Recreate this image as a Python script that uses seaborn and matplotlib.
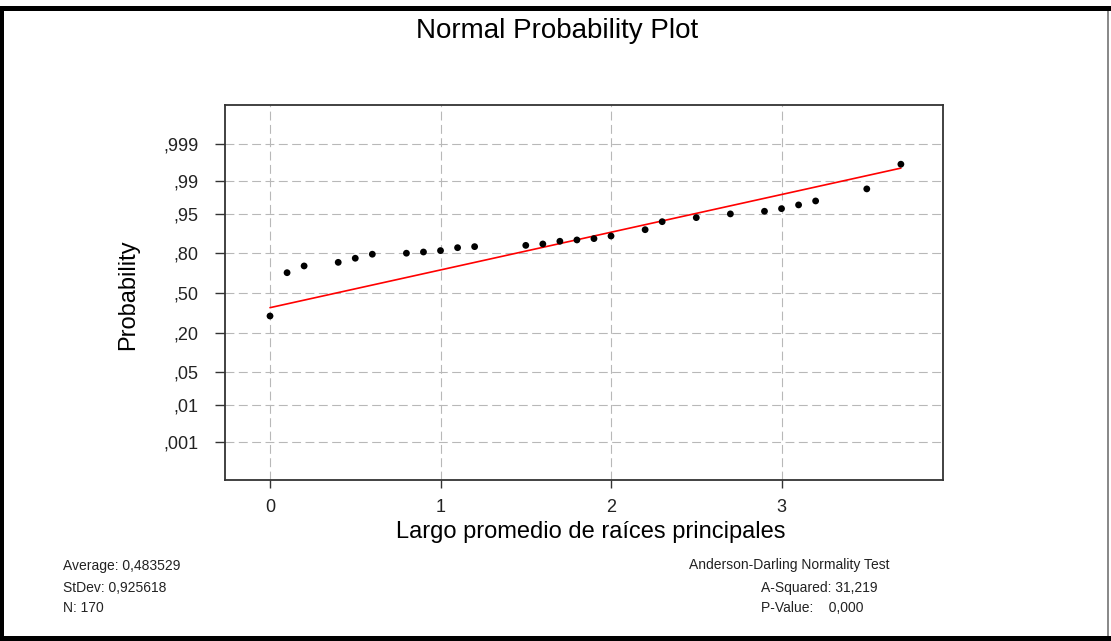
import numpy as np
import pandas as pd
import matplotlib
matplotlib.use("Agg")
import matplotlib.pyplot as plt
import seaborn as sns
from matplotlib.patches import Rectangle
from statistics import NormalDist

# ---------------- data ----------------
x_values = [0.0, 0.1, 0.2, 0.4, 0.5, 0.6, 0.8, 0.9, 1.0, 1.1, 1.2,
            1.5, 1.6, 1.7, 1.8, 1.9, 2.0, 2.2, 2.3, 2.5, 2.7, 2.9,
            3.0, 3.1, 3.2, 3.5, 3.7]
prob_values = [0.316, 0.6635, 0.713, 0.738, 0.765, 0.790, 0.796, 0.803,
               0.811, 0.827, 0.8325, 0.839, 0.846, 0.859, 0.865, 0.871,
               0.882, 0.906, 0.931, 0.9415, 0.950, 0.9554, 0.9603, 0.9665,
               0.9722, 0.9848, 0.9963]
fit_x = [0.0, 3.7]
fit_prob = [0.38, 0.9953]
prob_ticks = [0.001, 0.01, 0.05, 0.20, 0.50, 0.80, 0.95, 0.99, 0.999]
prob_tick_labels = [",001", ",01", ",05", ",20", ",50", ",80", ",95", ",99", ",999"]
x_ticks = [0, 1, 2, 3]
x_tick_labels = ["0", "1", "2", "3"]
x_limits = [-0.264, 3.947]
z_limits = [-3.89, 3.91]

title_text = "Normal Probability Plot"
x_label = "Largo promedio de raíces principales"
y_label = "Probability"
left_stats = ["Average: 0,483529", "StDev: 0,925618", "N: 170"]
right_title = "Anderson-Darling Normality Test"
right_stats = ["A-Squared: 31,219", "P-Value:    0,000"]

df = pd.DataFrame({"x": x_values, "p": prob_values})
fit_df = pd.DataFrame({"x": fit_x, "p": fit_prob})

# ---------------- normal probability scale ----------------
_nd = NormalDist()


def _ppf(p):
    arr = np.asarray(p, dtype=float)
    flat = arr.ravel()
    out = np.empty_like(flat)
    for i, v in enumerate(flat):
        if np.isnan(v):
            out[i] = np.nan
        else:
            out[i] = _nd.inv_cdf(min(max(v, 1e-15), 1 - 1e-15))
    return out.reshape(arr.shape)


def _cdf(z):
    arr = np.asarray(z, dtype=float)
    flat = arr.ravel()
    out = np.empty_like(flat)
    for i, v in enumerate(flat):
        out[i] = np.nan if np.isnan(v) else _nd.cdf(v)
    return out.reshape(arr.shape)


# ---------------- styling ----------------
sns.set_theme(style="white")
plt.rcParams["font.family"] = ["Liberation Sans", "DejaVu Sans"]

W, H = 1111, 641
fig = plt.figure(figsize=(W / 100, H / 100), dpi=100)
fig.patch.set_facecolor("white")

ax_l, ax_r, ax_t, ax_b = 225, 943, 105, 480
ax = fig.add_axes([ax_l / W, 1 - ax_b / H, (ax_r - ax_l) / W, (ax_b - ax_t) / H])
ax.set_yscale("function", functions=(_ppf, _cdf))

sns.lineplot(data=fit_df, x="x", y="p", ax=ax, color="#ff0000", linewidth=1.2,
             estimator=None, zorder=3)
sns.scatterplot(data=df, x="x", y="p", ax=ax, color="black", s=24,
                edgecolor="none", zorder=4)

ax.set_xlim(*x_limits)
ax.set_ylim(float(_cdf(z_limits[0])), float(_cdf(z_limits[1])))
ax.set_xticks(x_ticks)
ax.set_xticklabels(x_tick_labels)
ax.set_yticks(prob_ticks)
ax.set_yticklabels(prob_tick_labels)
ax.minorticks_off()

ax.grid(True, color="#b8b8b8", linestyle=(0, (8, 4)), linewidth=0.8)
for s in ax.spines.values():
    s.set_color("#333333")
    s.set_linewidth(1.3)

ax.tick_params(axis="y", direction="out", length=7, width=1.0, color="#333333",
               pad=12, labelsize=13, labelcolor="#222222", left=True)
ax.tick_params(axis="x", direction="out", length=6, width=1.0, color="#333333",
               pad=8, labelsize=13, labelcolor="#222222", bottom=True)

ax.set_xlabel(x_label, fontsize=17, color="black")
ax.xaxis.set_label_coords((590.5 - ax_l) / (ax_r - ax_l), (ax_b - 521) / (ax_b - ax_t))
ax.set_ylabel(y_label, fontsize=17, color="black")
ax.yaxis.set_label_coords((139 - ax_l) / (ax_r - ax_l), (ax_b - 295) / (ax_b - ax_t))

fig.text(557 / W, 1 - 31 / H, title_text, ha="center", va="center",
         fontsize=20, color="black")

for txt, yy in zip(left_stats, [566, 588, 608]):
    fig.text(63 / W, 1 - yy / H, txt, ha="left", va="center", fontsize=10, color="#222222")
fig.text(689 / W, 1 - 565 / H, right_title, ha="left", va="center", fontsize=10, color="#222222")
for txt, yy in zip(right_stats, [588, 608]):
    fig.text(761 / W, 1 - yy / H, txt, ha="left", va="center", fontsize=10, color="#222222")

# ---------------- outer frame ----------------
def px_rect(x0, y0, x1, y1, color):
    fig.add_artist(Rectangle((x0 / W, 1 - y1 / H), (x1 - x0) / W, (y1 - y0) / H,
                             transform=fig.transFigure, facecolor=color,
                             edgecolor="none", zorder=10))

px_rect(0, 6, W, 11, "black")      # top band
px_rect(0, 6, 4, H, "black")       # left band
px_rect(0, 636, W, H, "black")     # bottom band
px_rect(1107, 11, 1109, 636, "#8a8a8a")  # right thin line

fig.savefig("out.png", dpi=100, facecolor="white")
